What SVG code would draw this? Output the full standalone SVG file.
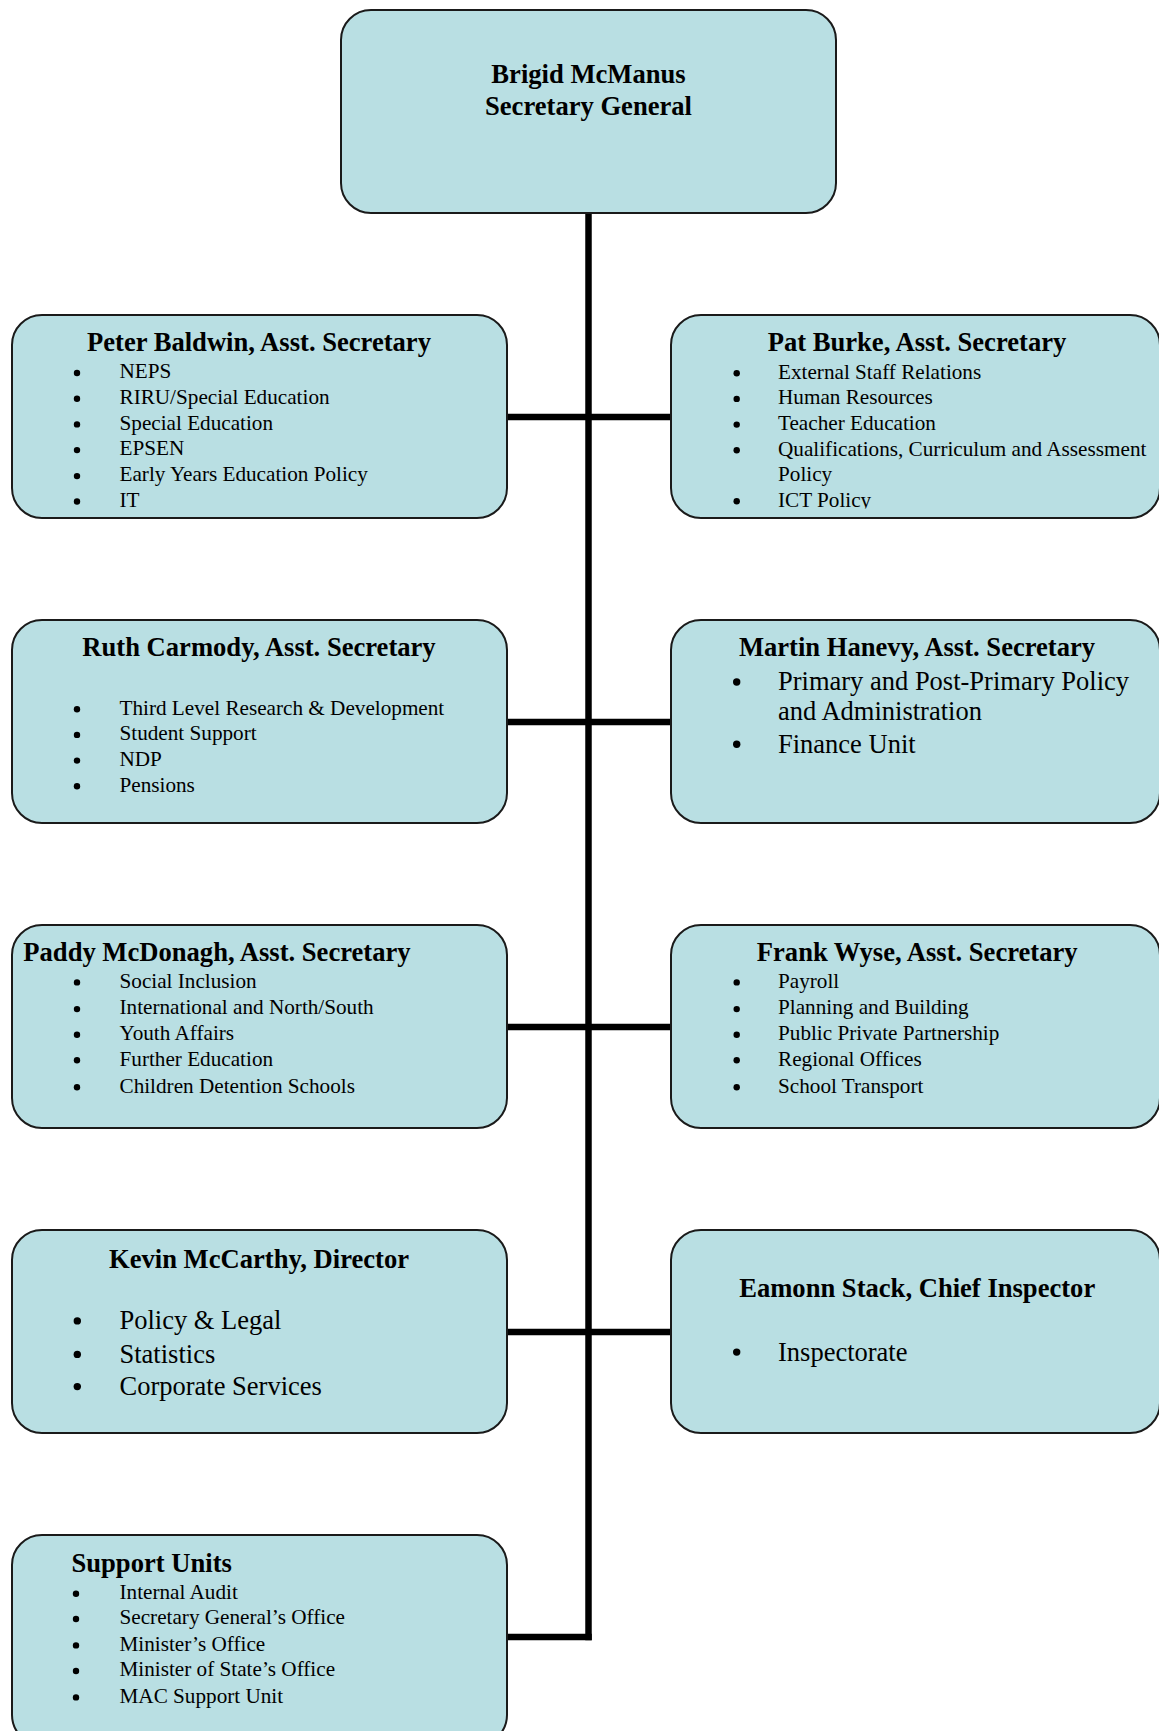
<svg xmlns="http://www.w3.org/2000/svg" width="1159" height="1731" viewBox="0 0 1159 1731">
<style>
.box{fill:#b9dfe3;stroke:#1a1a1a;stroke-width:2}
.h{font-family:"Liberation Serif","Times New Roman",serif;font-weight:bold;font-size:26.6px;fill:#000}
.c{text-anchor:middle}
.s{font-family:"Liberation Serif","Times New Roman",serif;font-size:21.2px;fill:#000}
.l{font-family:"Liberation Serif","Times New Roman",serif;font-size:26.5px;fill:#000}
.b{fill:#000}
.conn{stroke:#000;stroke-width:6.5;fill:none;stroke-linecap:butt}
</style>
<defs>
<clipPath id="clipBurke"><rect x="671" y="315" width="489" height="193.5"/></clipPath>
</defs>
<rect width="1159" height="1731" fill="#fff"/>

<g id="connectors">
<line class="conn" x1="588.5" y1="213" x2="588.5" y2="1640.2"/>
<line class="conn" x1="507" y1="417" x2="671" y2="417"/>
<line class="conn" x1="507" y1="722" x2="671" y2="722"/>
<line class="conn" x1="507" y1="1027" x2="671" y2="1027"/>
<line class="conn" x1="507" y1="1332" x2="671" y2="1332"/>
<line class="conn" x1="507" y1="1637" x2="591.75" y2="1637"/>
</g>

<g id="secretary-general">
<rect class="box" x="341" y="10" width="495" height="203" rx="30"/>
<text class="h c" x="588.5" y="83.2">Brigid McManus</text>
<text class="h c" x="588.5" y="114.8">Secretary General</text>
</g>

<g id="peter-baldwin">
<rect class="box" x="12" y="315" width="495" height="203" rx="30"/>
<text class="h c" x="259" y="351">Peter Baldwin, Asst. Secretary</text>
<circle class="b" cx="77" cy="373" r="3.2"/><text class="s" x="119.5" y="378.3">NEPS</text>
<circle class="b" cx="77" cy="398.7" r="3.2"/><text class="s" x="119.5" y="404">RIRU/Special Education</text>
<circle class="b" cx="77" cy="424.4" r="3.2"/><text class="s" x="119.5" y="429.7">Special Education</text>
<circle class="b" cx="77" cy="450.1" r="3.2"/><text class="s" x="119.5" y="455.4">EPSEN</text>
<circle class="b" cx="77" cy="476.1" r="3.2"/><text class="s" x="119.5" y="481.4">Early Years Education Policy</text>
<circle class="b" cx="77" cy="501.5" r="3.2"/><text class="s" x="119.5" y="506.8">IT</text>
</g>

<g id="pat-burke">
<rect class="box" x="671" y="315" width="489" height="203" rx="30"/>
<text class="h c" x="917" y="351">Pat Burke, Asst. Secretary</text>
<g clip-path="url(#clipBurke)">
<circle class="b" cx="736.7" cy="373.2" r="3.2"/><text class="s" x="778" y="378.5">External Staff Relations</text>
<circle class="b" cx="736.7" cy="398.9" r="3.2"/><text class="s" x="778" y="404.2">Human Resources</text>
<circle class="b" cx="736.7" cy="424.6" r="3.2"/><text class="s" x="778" y="429.9">Teacher Education</text>
<circle class="b" cx="736.7" cy="450.3" r="3.2"/><text class="s" x="778" y="455.6">Qualifications, Curriculum and Assessment</text>
<text class="s" x="778" y="481.1">Policy</text>
<circle class="b" cx="736.7" cy="501.3" r="3.2"/><text class="s" x="778" y="506.6">ICT Policy</text>
</g>
</g>

<g id="ruth-carmody">
<rect class="box" x="12" y="620" width="495" height="203" rx="30"/>
<text class="h c" x="259" y="655.6">Ruth Carmody, Asst. Secretary</text>
<circle class="b" cx="77" cy="709.2" r="3.2"/><text class="s" x="119.5" y="714.5">Third Level Research &amp; Development</text>
<circle class="b" cx="77" cy="734.9" r="3.2"/><text class="s" x="119.5" y="740.2">Student Support</text>
<circle class="b" cx="77" cy="760.6" r="3.2"/><text class="s" x="119.5" y="765.9">NDP</text>
<circle class="b" cx="77" cy="786.3" r="3.2"/><text class="s" x="119.5" y="791.6">Pensions</text>
</g>

<g id="martin-hanevy">
<rect class="box" x="671" y="620" width="489" height="203" rx="30"/>
<text class="h c" x="917" y="656">Martin Hanevy, Asst. Secretary</text>
<circle class="b" cx="736.7" cy="682" r="3.7"/><text class="l" x="778" y="690.4">Primary and Post-Primary Policy</text>
<text class="l" x="778" y="719.6">and Administration</text>
<circle class="b" cx="736.7" cy="744.3" r="3.7"/><text class="l" x="778" y="752.7">Finance Unit</text>
</g>

<g id="paddy-mcdonagh">
<rect class="box" x="12" y="925" width="495" height="203" rx="30"/>
<text class="h" x="23.3" y="961">Paddy McDonagh, Asst. Secretary</text>
<circle class="b" cx="77" cy="982.4" r="3.2"/><text class="s" x="119.5" y="987.7">Social Inclusion</text>
<circle class="b" cx="77" cy="1009.1" r="3.2"/><text class="s" x="119.5" y="1014.4">International and North/South</text>
<circle class="b" cx="77" cy="1034.7" r="3.2"/><text class="s" x="119.5" y="1040">Youth Affairs</text>
<circle class="b" cx="77" cy="1060.3" r="3.2"/><text class="s" x="119.5" y="1065.6">Further Education</text>
<circle class="b" cx="77" cy="1087.2" r="3.2"/><text class="s" x="119.5" y="1092.5">Children Detention Schools</text>
</g>

<g id="frank-wyse">
<rect class="box" x="671" y="925" width="489" height="203" rx="30"/>
<text class="h c" x="917.2" y="961">Frank Wyse, Asst. Secretary</text>
<circle class="b" cx="736.7" cy="982.4" r="3.2"/><text class="s" x="778" y="987.7">Payroll</text>
<circle class="b" cx="736.7" cy="1009.1" r="3.2"/><text class="s" x="778" y="1014.4">Planning and Building</text>
<circle class="b" cx="736.7" cy="1034.7" r="3.2"/><text class="s" x="778" y="1040">Public Private Partnership</text>
<circle class="b" cx="736.7" cy="1060.3" r="3.2"/><text class="s" x="778" y="1065.6">Regional Offices</text>
<circle class="b" cx="736.7" cy="1087.2" r="3.2"/><text class="s" x="778" y="1092.5">School Transport</text>
</g>

<g id="kevin-mccarthy">
<rect class="box" x="12" y="1230" width="495" height="203" rx="30"/>
<text class="h c" x="259" y="1267.7">Kevin McCarthy, Director</text>
<circle class="b" cx="77.3" cy="1320.9" r="3.7"/><text class="l" x="119.5" y="1329.3">Policy &amp; Legal</text>
<circle class="b" cx="77.3" cy="1354.4" r="3.7"/><text class="l" x="119.5" y="1362.8">Statistics</text>
<circle class="b" cx="77.3" cy="1386.6" r="3.7"/><text class="l" x="119.5" y="1395">Corporate Services</text>
</g>

<g id="eamonn-stack">
<rect class="box" x="671" y="1230" width="489" height="203" rx="30"/>
<text class="h c" x="917.2" y="1297.3">Eamonn Stack, Chief Inspector</text>
<circle class="b" cx="736.7" cy="1352.1" r="3.7"/><text class="l" x="778" y="1360.5">Inspectorate</text>
</g>

<g id="support-units">
<rect class="box" x="12" y="1535" width="495" height="210" rx="30"/>
<text class="h" x="71.5" y="1572.3">Support Units</text>
<circle class="b" cx="76" cy="1593.7" r="3.2"/><text class="s" x="119.5" y="1599">Internal Audit</text>
<circle class="b" cx="76" cy="1619" r="3.2"/><text class="s" x="119.5" y="1624.3">Secretary General’s Office</text>
<circle class="b" cx="76" cy="1645.4" r="3.2"/><text class="s" x="119.5" y="1650.7">Minister’s Office</text>
<circle class="b" cx="76" cy="1671" r="3.2"/><text class="s" x="119.5" y="1676.3">Minister of State’s Office</text>
<circle class="b" cx="76" cy="1697.4" r="3.2"/><text class="s" x="119.5" y="1702.7">MAC Support Unit</text>
</g>
</svg>
